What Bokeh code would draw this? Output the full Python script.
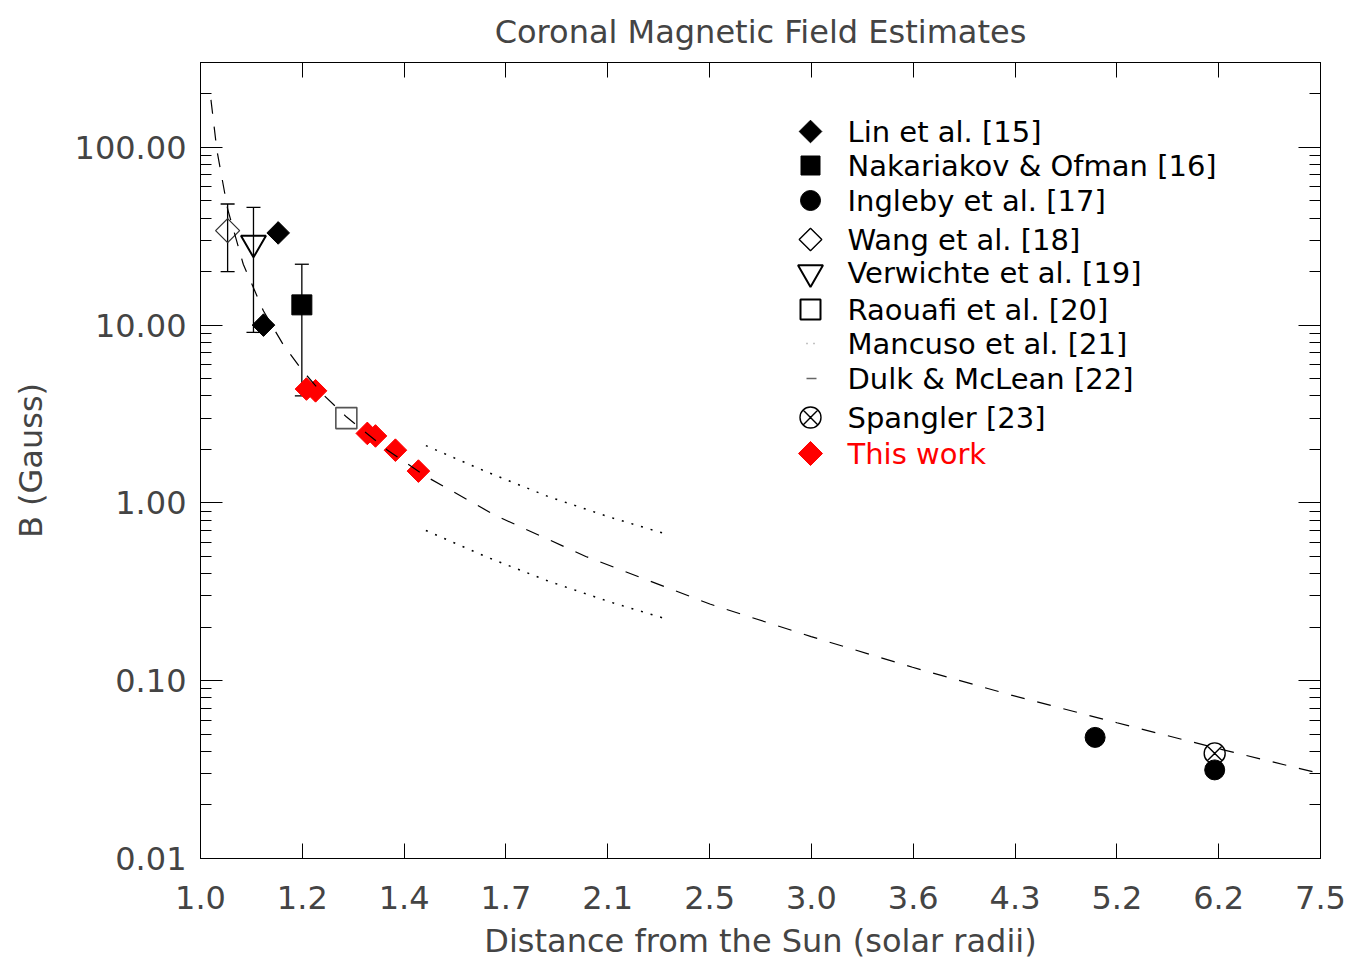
import math
from bokeh.plotting import figure
from bokeh.models import (Range1d, LogAxis, FixedTicker, CustomJSTickFormatter, Whisker,
                          TeeHead, ColumnDataSource, LinearScale)
from bokeh.core.properties import value
from bokeh.embed import file_html
from bokeh.resources import INLINE

# ---------------- data ----------------
lin_r = [1.12, 1.15]
lin_b = [10.0, 33.0]

nak_r = [1.20]
nak_b = [13.0]
nak_lo = [4.0]
nak_hi = [22.0]

ing_r = [5.0, 6.2]
ing_b = [0.048, 0.0315]

wang_r = [1.05]
wang_b = [34.0]
wang_lo = [20.0]
wang_hi = [48.0]

ver_r = [1.10]
ver_b = [29.0]
ver_lo = [9.1]
ver_hi = [46.0]

rao_r = [1.30]
rao_b = [3.0]

man_r = [1.50, 1.675, 1.87, 2.09, 2.30]
man_hi_b = [2.10, 1.49, 1.085, 0.83, 0.675]
man_lo_b = [0.70, 0.495, 0.363, 0.277, 0.225]

dulk_r = [1.019, 1.03, 1.05, 1.08, 1.12, 1.16, 1.20, 1.25, 1.30, 1.40, 1.50,
          1.70, 2.00, 2.50, 3.00, 3.60, 4.30, 5.20, 6.20, 7.50]
dulk_b = [185.0, 96.0, 45.0, 22.0, 12.0, 7.8, 5.6, 4.0, 3.05, 1.98, 1.41,
          0.85, 0.50, 0.27, 0.177, 0.119, 0.083, 0.058, 0.042, 0.030]

spa_r = [6.2]
spa_b = [0.039]

tw_r = [1.21, 1.23, 1.35, 1.37, 1.42, 1.48]
tw_b = [4.37, 4.27, 2.46, 2.38, 1.98, 1.51]

x_ticks = [1.0, 1.2010, 1.4425, 1.7324, 2.0807, 2.4990, 3.0013, 3.6047,
           4.3293, 5.1995, 6.2447, 7.5]
x_labels = ["1.0", "1.2", "1.4", "1.7", "2.1", "2.5", "3.0", "3.6", "4.3",
            "5.2", "6.2", "7.5"]
y_ticks = [0.01, 0.1, 1.0, 10.0, 100.0]
y_labels = ["0.01", "0.10", "1.00", "10.00", "100.00"]

legend_labels = ["Lin et al. [15]", "Nakariakov & Ofman [16]", "Ingleby et al. [17]",
                 "Wang et al. [18]", "Verwichte et al. [19]", "Raouafi et al. [20]",
                 "Mancuso et al. [21]", "Dulk & McLean [22]", "Spangler [23]", "This work"]

title_text = "Coronal Magnetic Field Estimates"
x_title = "Distance from the Sun (solar radii)"
y_title = "B (Gauss)"

# ---------------- styling ----------------
FONT = "DejaVu Sans"
TXT = "#444444"

FW, FH = 1120, 796
p = figure(x_axis_type="log", y_axis_type="log",
           x_range=Range1d(1.0, 7.5), y_range=Range1d(0.01, 300.0),
           frame_width=FW, frame_height=FH,
           min_border_left=200, min_border_top=62, min_border_right=29, min_border_bottom=90,
           output_backend="svg", toolbar_location=None,
           extra_x_ranges={"legx": Range1d(0, FW)}, extra_y_ranges={"legy": Range1d(0, FH)},
           extra_x_scales={"legx": LinearScale()}, extra_y_scales={"legy": LinearScale()})
p.grid.visible = False
p.outline_line_color = "black"
p.outline_line_width = 1
p.background_fill_color = "white"
p.border_fill_color = "white"

p.title.text = title_text
p.title.align = "center"
p.title.vertical_align = "top"
p.title.text_font = FONT
p.title.text_font_size = "32px"
p.title.text_font_style = "normal"
p.title.text_color = TXT
p.title.standoff = 20

minor_y = [m * 10.0 ** e for e in range(-2, 3) for m in range(2, 10) if m * 10.0 ** e <= 300]

fmt_code = """
let best = 0, bd = Infinity;
for (let i = 0; i < tv.length; i++) {
  const d = Math.abs(Math.log(tick) - Math.log(tv[i]));
  if (d < bd) { bd = d; best = i; }
}
return tl[best];
"""

xa = p.xaxis[0]
xa.ticker = FixedTicker(ticks=x_ticks)
xa.formatter = CustomJSTickFormatter(args=dict(tv=x_ticks, tl=x_labels), code=fmt_code)
ya = p.yaxis[0]
ya.ticker = FixedTicker(ticks=y_ticks, minor_ticks=minor_y)
ya.formatter = CustomJSTickFormatter(args=dict(tv=y_ticks, tl=y_labels), code=fmt_code)

for ax in (xa, ya):
    ax.major_label_text_font = FONT
    ax.major_label_text_font_size = "32px"
    ax.major_label_text_color = TXT
    ax.axis_label_text_font = FONT
    ax.axis_label_text_font_size = "32px"
    ax.axis_label_text_font_style = "normal"
    ax.axis_label_text_color = TXT
    ax.axis_line_color = "black"
    ax.major_tick_line_color = "black"
    ax.minor_tick_line_color = "black"
    ax.major_tick_out = 0
    ax.minor_tick_out = 0

xa.axis_label = x_title
xa.major_tick_in = 15
xa.minor_tick_line_color = None
xa.major_label_standoff = 27
xa.axis_label_standoff = 10
ya.axis_label = y_title
ya.major_tick_in = 22
ya.minor_tick_in = 11
ya.major_label_standoff = 14
ya.axis_label_standoff = 22

top = LogAxis(ticker=FixedTicker(ticks=x_ticks), major_label_text_font_size="2px",
              major_label_text_color=None,
              major_tick_in=15, major_tick_out=0, minor_tick_line_color=None,
              major_label_standoff=0, axis_line_color="black")
right = LogAxis(ticker=FixedTicker(ticks=y_ticks, minor_ticks=minor_y),
                major_label_text_font_size="2px", major_label_text_color=None,
                major_tick_in=22, major_tick_out=0,
                minor_tick_in=11, minor_tick_out=0, major_label_standoff=0,
                axis_line_color="black")
p.add_layout(top, "above")
p.add_layout(right, "right")

# ---------------- data marks ----------------
p.scatter(lin_r, lin_b, marker="square", angle=math.pi / 4, size=16,
          fill_color="black", line_color="black")
p.scatter(nak_r, nak_b, marker="square", size=20, fill_color="black", line_color="black")
p.scatter(ing_r, ing_b, marker="circle", size=20, fill_color="black", line_color="black")
p.scatter(wang_r, wang_b, marker="square", angle=math.pi / 4, size=17,
          fill_alpha=0, line_color="#333333", line_width=1.3)
p.scatter(ver_r, ver_b, marker="inverted_triangle", size=25, fill_alpha=0,
          line_color="black", line_width=2)
p.scatter(rao_r, rao_b, marker="square", size=21, fill_alpha=0,
          line_color="#555555", line_width=1.6)
p.scatter(spa_r, spa_b, marker="circle_x", size=21, fill_alpha=0,
          line_color="black", line_width=1.4)
p.scatter(tw_r, tw_b, marker="square", angle=math.pi / 4, size=16,
          fill_color="red", line_color="red")

p.line(dulk_r, dulk_b, line_color="black", line_width=1.2, line_dash="14 13")
p.line(man_r, man_hi_b, line_color="black", line_width=1.5, line_dash="2 8")
p.line(man_r, man_lo_b, line_color="black", line_width=1.5, line_dash="2 8")

err = ColumnDataSource(dict(x=nak_r + wang_r + ver_r,
                            lo=nak_lo + wang_lo + ver_lo,
                            hi=nak_hi + wang_hi + ver_hi))
p.add_layout(Whisker(base="x", lower="lo", upper="hi", source=err, dimension="height",
                     line_color="black", line_width=1.3,
                     upper_head=TeeHead(size=14, line_color="black", line_width=1.3),
                     lower_head=TeeHead(size=14, line_color="black", line_width=1.3)))

# ---------------- legend (frame pixel coordinates) ----------------
LX, TX = 610, 647
rows = [727, 693, 658, 619, 586, 549, 515, 480, 441, 405]
leg = dict(x_range_name="legx", y_range_name="legy")
p.scatter([LX], [rows[0]], marker="square", angle=math.pi / 4, size=16,
          fill_color="black", line_color="black", **leg)
p.scatter([LX], [rows[1]], marker="square", size=19, fill_color="black", line_color="black", **leg)
p.scatter([LX], [rows[2]], marker="circle", size=20, fill_color="black", line_color="black", **leg)
p.scatter([LX], [rows[3]], marker="square", angle=math.pi / 4, size=16, fill_alpha=0,
          line_color="black", line_width=1.4, **leg)
p.scatter([LX], [rows[4]], marker="inverted_triangle", size=25, fill_alpha=0,
          line_color="black", line_width=2, **leg)
p.scatter([LX], [rows[5]], marker="square", size=20, fill_alpha=0,
          line_color="black", line_width=2, **leg)
p.line([LX - 4, LX + 4], [rows[6], rows[6]], line_color="#888888", line_width=1.5,
       line_dash="1 6", **leg)
p.line([LX - 4, LX + 6], [rows[7], rows[7]], line_color="#666666", line_width=1.5, **leg)
p.scatter([LX], [rows[8]], marker="circle_x", size=21, fill_alpha=0,
          line_color="black", line_width=1.4, **leg)
p.scatter([LX], [rows[9]], marker="square", angle=math.pi / 4, size=17,
          fill_color="red", line_color="red", **leg)

tsrc = ColumnDataSource(dict(x=[TX] * len(rows), y=rows, t=legend_labels,
                             c=["black"] * (len(rows) - 1) + ["red"]))
p.text(x="x", y="y", text="t", text_color="c", source=tsrc, text_font=value(FONT),
       text_font_size="29px", text_baseline="middle", text_align="left", **leg)

open("out.html", "w").write(file_html(p, INLINE))
